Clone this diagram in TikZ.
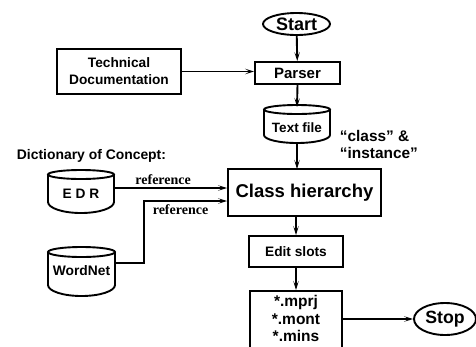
\documentclass[tikz,border=0pt]{standalone}
\usepackage{fontspec}
\setmainfont{Liberation Sans}
\newfontfamily\serifb{Liberation Serif}
\usetikzlibrary{arrows.meta,shapes.geometric,calc}
\newcommand\fs[1]{\fontsize{#1}{#1}\selectfont}
\newcommand\drawcyl[6]{%
  \pgfmathsetmacro\cx{(#1+#2)/2}%
  \pgfmathsetmacro\rx{(#2-#1)/2}%
  \pgfmathsetmacro\cy{#3+#4}%
  \draw (\cx,\cy) ellipse[x radius=\rx pt, y radius=#4 pt];
  \draw (#1,\cy) -- (#1,#5) arc[start angle=180,end angle=360,x radius=\rx pt,y radius=#6 pt] -- (#2,\cy);
}
\begin{document}
\begin{tikzpicture}[x=1pt,y=-1pt,line width=1.9pt,font=\bfseries,
  box/.style={draw,rectangle,inner sep=0pt,align=center},
  oval/.style={draw,ellipse,inner sep=0pt},
  cyl/.style={inner sep=0pt,minimum width=66pt,minimum height=20pt},
  arr/.style={-{Stealth[length=9pt,width=5.5pt,inset=4.5pt,line width=1pt]}},
  reflab/.style={font=\serifb\bfseries\fs{14}, inner sep=1pt}]
\useasboundingbox (0,0) rectangle (476,346);
\clip (0,0) rectangle (476,346);

\node[oval,minimum width=67pt,minimum height=22pt,font=\bfseries\fs{18}] (start) at (296.5,24) {Start};
\node[box,minimum width=85pt,minimum height=22pt,font=\bfseries\fs{15}] (parser) at (297.5,73) {Parser};
\node[box,minimum width=124pt,minimum height=45pt,font=\bfseries\fontsize{13.7}{17}\selectfont] (tech) at (119,71.5) {Technical\\Documentation};

\drawcyl{264}{330}{105}{4.5}{135}{8}
\node[cyl,font=\bfseries\fs{13.5}] (text) at (297,128) {Text file};

\node[anchor=west,inner sep=0pt,align=left,font=\bfseries\fontsize{15.4}{17}\selectfont] (ci) at (339,144) {“class” \&\\“instance”};
\node[anchor=west,inner sep=0pt,font=\bfseries\fs{13.9}] (dict) at (16,156) {Dictionary of Concept:};

\drawcyl{48}{114}{170}{4.5}{202}{11}
\node[cyl,font=\bfseries\fs{13.7}] (edr) at (81,194) {E D R};

\drawcyl{48}{115}{247}{5}{285}{11}
\node[cyl,minimum width=67pt,font=\bfseries\fs{13.8}] (wn) at (81.5,271) {WordNet};

\node[box,minimum width=153pt,minimum height=47pt,font=\bfseries\fs{18.5}] (ch) at (304.5,192.5) {Class hierarchy};
\node[box,minimum width=94pt,minimum height=31pt,font=\bfseries\fs{13.7}] (edit) at (296,251.5) {Edit slots};
\node[box,minimum width=92pt,anchor=north,font=\bfseries\fontsize{15.5}{17.5}\selectfont] (out) at (296,290) {\rule{0pt}{16pt}*.mprj\\*.mont\\*.mins\rule[-10pt]{0pt}{10pt}};
\node[oval,minimum width=62pt,minimum height=32pt,font=\bfseries\fs{17.7}] (stop) at (445,319) {Stop};

\draw[arr] (start) -- (parser);
\draw[arr] (tech.east) -- (parser.west |- tech.east);
\draw[arr] (parser.south) -- (297,107);
\draw[arr] (297,143) -- (297,169);
\coordinate (e1) at ([yshift=6pt]edr.east);
\draw[arr] (e1) -- node[reflab,above=1pt,pos=0.43] {reference} (e1 -| ch.west);
\coordinate (w1) at ([yshift=8pt]wn.east);
\coordinate (c2) at ([yshift=-8.5pt]ch.west);
\draw[arr] (w1) -- ++(28,0) |- node[reflab,below=2pt,pos=0.72] {reference} (c2);
\draw[arr] (ch.south -| edit.north) -- (edit.north);
\draw[arr] (edit) -- (out);
\draw[arr] (out.east |- stop.west) -- (stop.west);
\end{tikzpicture}
\end{document}
